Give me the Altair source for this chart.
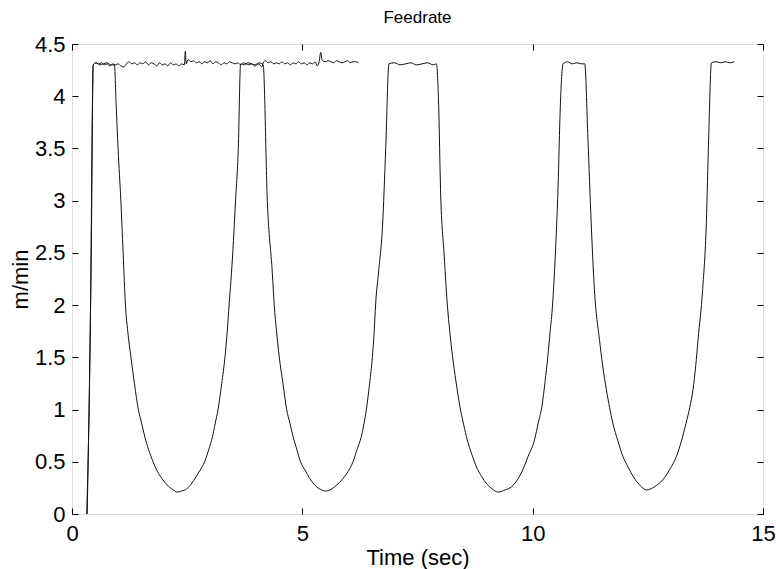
import altair as alt
import pandas as pd

# Trace A: feedrate with four slow-downs
t_a = [0.32, 0.41, 0.44, 0.46, 0.52, 0.60, 0.68, 0.76, 0.84, 0.92,
       0.96, 1.00, 1.06, 1.11, 1.16, 1.21, 1.28, 1.355, 1.44, 1.51, 1.58, 1.66, 1.76,
       1.85, 1.95, 2.06, 2.20, 2.28,
       2.38, 2.49, 2.64, 2.78, 2.88, 2.97, 3.05, 3.11, 3.17, 3.25, 3.32, 3.37, 3.41,
       3.49, 3.55, 3.61, 3.66,
       3.74, 3.82, 3.90, 3.98, 4.06, 4.15,
       4.24, 4.35, 4.39, 4.44, 4.50, 4.58, 4.66, 4.73, 4.80, 4.88, 4.96, 5.06, 5.16,
       5.34, 5.42, 5.50, 5.60, 5.70, 5.92, 6.01, 6.10, 6.19, 6.28, 6.34, 6.39, 6.46,
       6.52, 6.56, 6.59, 6.66, 6.74, 6.81, 6.88,
       7.00, 7.12, 7.24, 7.36, 7.48, 7.60, 7.72, 7.84, 7.91,
       7.96, 8.00, 8.08, 8.15, 8.20, 8.26, 8.335, 8.42, 8.50, 8.58, 8.68, 8.78, 8.89,
       9.00, 9.12, 9.25, 9.40, 9.54, 9.75, 9.90, 10.04, 10.12, 10.20, 10.27, 10.33,
       10.38, 10.43, 10.49, 10.55, 10.60, 10.66,
       10.76, 10.86, 10.96, 11.06, 11.13,
       11.20, 11.27, 11.34, 11.45, 11.52, 11.60, 11.67, 11.74, 11.85, 11.96, 12.07,
       12.18, 12.34, 12.47, 12.64, 12.83, 12.98, 13.12, 13.23, 13.33, 13.41, 13.48,
       13.54, 13.59, 13.69, 13.77, 13.82, 13.88,
       13.98, 14.08, 14.18, 14.28, 14.38]
v_a = [0.00, 2.30, 3.80, 4.30, 4.32, 4.30, 4.31, 4.32, 4.30, 4.30,
       3.90, 3.50, 3.00, 2.50, 2.00, 1.75, 1.50, 1.25, 1.00, 0.87, 0.74, 0.62, 0.50,
       0.41, 0.34, 0.28, 0.23, 0.21,
       0.22, 0.24, 0.32, 0.42, 0.50, 0.62, 0.74, 0.87, 1.00, 1.25, 1.50, 1.75, 2.00,
       2.50, 3.00, 3.50, 4.31,
       4.30, 4.32, 4.31, 4.29, 4.32, 4.30,
       3.00, 2.30, 2.00, 1.75, 1.50, 1.25, 1.00, 0.87, 0.74, 0.62, 0.50, 0.42, 0.34,
       0.25, 0.23, 0.22, 0.23, 0.26, 0.36, 0.42, 0.50, 0.62, 0.74, 0.87, 1.00, 1.25,
       1.50, 1.75, 2.00, 2.34, 2.75, 3.50, 4.31,
       4.32, 4.30, 4.31, 4.32, 4.30, 4.31, 4.32, 4.30, 4.31,
       3.90, 3.11, 2.47, 1.99, 1.75, 1.51, 1.27, 1.03, 0.86, 0.71, 0.57, 0.45, 0.36,
       0.29, 0.24, 0.21, 0.23, 0.26, 0.39, 0.55, 0.71, 0.87, 1.03, 1.27, 1.51,
       1.75, 1.99, 2.47, 3.11, 3.90, 4.31,
       4.33, 4.31, 4.32, 4.31, 4.31,
       3.59, 2.79, 2.15, 1.67, 1.42, 1.19, 1.02, 0.87, 0.70, 0.55, 0.45,
       0.36, 0.27, 0.23, 0.26, 0.33, 0.43, 0.55, 0.70, 0.87, 1.02, 1.19,
       1.42, 1.67, 2.15, 2.79, 3.59, 4.32,
       4.33, 4.32, 4.33, 4.32, 4.33]

# Trace B: steady noisy feedrate (first part of the run)
t_b = [0.33, 0.42, 0.46, 0.52, 0.58, 0.64, 0.70, 0.76, 0.82, 0.88, 0.94, 1.00,
       1.06, 1.12, 1.18, 1.24, 1.30, 1.36, 1.42, 1.48, 1.54, 1.60, 1.66, 1.72,
       1.78, 1.84, 1.90, 1.96, 2.02, 2.08, 2.14, 2.20, 2.26, 2.32, 2.38, 2.44,
       2.46, 2.48, 2.52, 2.58, 2.64, 2.70, 2.76, 2.82, 2.88, 2.94, 3.00, 3.06,
       3.12, 3.18, 3.24, 3.30, 3.36, 3.42, 3.48, 3.54, 3.60, 3.66, 3.72, 3.78,
       3.84, 3.90, 3.96, 4.02, 4.08, 4.12, 4.16, 4.20, 4.26, 4.32, 4.38, 4.44,
       4.50, 4.56, 4.62, 4.68, 4.74, 4.80, 4.86, 4.92, 4.98, 5.04, 5.10, 5.16,
       5.22, 5.28, 5.32, 5.36, 5.40, 5.42, 5.44, 5.50, 5.56, 5.62, 5.68, 5.74,
       5.80, 5.86, 5.92, 5.98, 6.04, 6.10, 6.16, 6.22]
v_b = [0.00, 2.60, 4.30, 4.32, 4.31, 4.32, 4.30, 4.31, 4.29, 4.31, 4.30, 4.31,
       4.29, 4.28, 4.31, 4.33, 4.31, 4.32, 4.30, 4.32, 4.31, 4.33, 4.30, 4.32,
       4.31, 4.29, 4.32, 4.30, 4.31, 4.29, 4.32, 4.30, 4.31, 4.29, 4.31, 4.30,
       4.43, 4.31, 4.35, 4.33, 4.34, 4.32, 4.33, 4.31, 4.33, 4.32, 4.34, 4.31,
       4.33, 4.32, 4.30, 4.32, 4.31, 4.33, 4.32, 4.31, 4.32, 4.30, 4.32, 4.31,
       4.30, 4.31, 4.30, 4.31, 4.30, 4.28, 4.33, 4.34, 4.32, 4.33, 4.31, 4.32,
       4.31, 4.33, 4.31, 4.32, 4.30, 4.32, 4.31, 4.33, 4.31, 4.32, 4.30, 4.32,
       4.31, 4.33, 4.29, 4.32, 4.42, 4.36, 4.34, 4.33, 4.34, 4.33, 4.32, 4.34,
       4.33, 4.32, 4.33, 4.34, 4.32, 4.33, 4.33, 4.32]

x_ticks = [0, 5, 10, 15]
y_ticks = [0, 0.5, 1, 1.5, 2, 2.5, 3, 3.5, 4, 4.5]

df = pd.concat([
    pd.DataFrame({"t": t_a, "v": v_a, "series": "A"}),
    pd.DataFrame({"t": t_b, "v": v_b, "series": "B"}),
], ignore_index=True)

FONT = "Liberation Sans"
LFS = 22   # tick labels
AFS = 22   # axis titles
TFS = 17   # chart title
TICK = 6

xscale = alt.Scale(domain=[0, 15], nice=False, zero=False)
yscale = alt.Scale(domain=[0, 4.5], nice=False, zero=False)

main = alt.Chart(df).mark_line(color="#111111", strokeWidth=1, interpolate="monotone").encode(
    x=alt.X("t:Q", scale=xscale, axis=alt.Axis(
        orient="bottom", values=x_ticks, format="~g", grid=False, domain=False,
        offset=-TICK, tickSize=TICK, tickColor="black", tickWidth=1,
        labelFont=FONT, labelFontSize=LFS, labelColor="black", labelPadding=9,
        labelFlush=False, labelOverlap=False,
        title="Time (sec)", titleFont=FONT, titleFontSize=AFS,
        titleFontWeight="normal", titleColor="black", titlePadding=3)),
    y=alt.Y("v:Q", scale=yscale, axis=alt.Axis(
        orient="left", values=y_ticks, format="~g", grid=False, domain=False,
        offset=-TICK, tickSize=TICK, tickColor="black", tickWidth=1,
        labelFont=FONT, labelFontSize=LFS, labelColor="black", labelPadding=7,
        labelFlush=False, labelOverlap=False,
        title="m/min", titleFont=FONT, titleFontSize=AFS,
        titleFontWeight="normal", titleColor="black", titlePadding=2)),
    detail="series:N",
)

mirror = alt.Chart(df).mark_line(strokeOpacity=0).encode(
    x=alt.X("t:Q", scale=xscale, axis=alt.Axis(
        orient="top", values=x_ticks, grid=False, domain=False, labels=False,
        offset=-TICK, tickSize=TICK, tickColor="black", tickWidth=1, title=None)),
    y=alt.Y("v:Q", scale=yscale, axis=alt.Axis(
        orient="right", values=y_ticks, grid=False, domain=False, labels=False,
        offset=-TICK, tickSize=TICK, tickColor="black", tickWidth=1, title=None)),
    detail="series:N",
)

chart = alt.layer(main, mirror).resolve_axis(
    x="independent", y="independent"
).properties(
    width=691,
    height=470,
    title=alt.TitleParams("Feedrate", font=FONT, fontSize=TFS, fontWeight="normal",
                          color="black", anchor="middle", offset=6),
    autosize=alt.AutoSizeParams(type="none"),
    padding={"left": 72, "top": 44, "right": 12, "bottom": 55},
).configure_view(
    stroke="black", strokeWidth=1
).configure(background="white")

chart.save("out.html", embed_options={"renderer": "svg", "actions": False})
